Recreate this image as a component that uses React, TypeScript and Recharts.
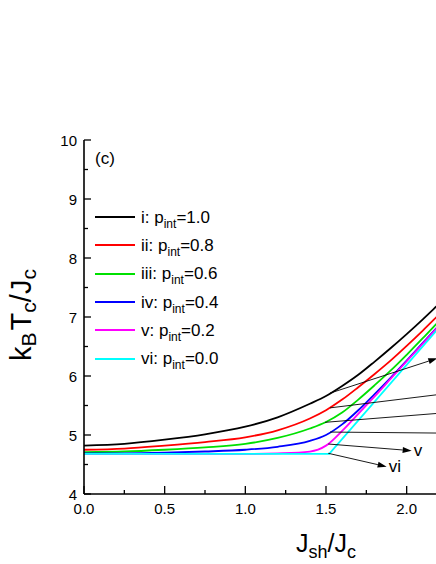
import { Legend, Line, LineChart, ReferenceLine, XAxis, YAxis } from "recharts";

const FONT = '"Liberation Sans", Arial, sans-serif';

// J_sh / J_c sample points for curves i..v
const jsh = [0, 0.25, 0.5, 0.75, 1.0, 1.2, 1.4, 1.5, 1.6, 1.7, 1.8, 1.9, 2.0, 2.1, 2.2, 2.3];
const tcI = [4.82, 4.85, 4.92, 5.01, 5.14, 5.3, 5.53, 5.66, 5.83, 6.02, 6.24, 6.47, 6.71, 6.96, 7.22, 7.48];
const tcII = [4.75, 4.77, 4.82, 4.88, 4.96, 5.08, 5.28, 5.42, 5.6, 5.81, 6.03, 6.26, 6.51, 6.77, 7.04, 7.31];
const tcIII = [4.71, 4.72, 4.75, 4.79, 4.85, 4.95, 5.11, 5.22, 5.38, 5.6, 5.84, 6.09, 6.36, 6.64, 6.93, 7.22];
const tcIV = [4.69, 4.69, 4.7, 4.72, 4.75, 4.8, 4.9, 5.0, 5.18, 5.42, 5.69, 5.97, 6.26, 6.56, 6.86, 7.16];
const tcV = [4.68, 4.68, 4.68, 4.68, 4.68, 4.69, 4.72, 4.82, 5.07, 5.36, 5.65, 5.95, 6.25, 6.55, 6.85, 7.15];
// curve vi is piecewise linear
const jshVi = [0, 1.52, 2.3];
const tcVi = [4.68, 4.68, 7.13];

const seriesNames = ["i", "ii", "iii", "iv", "v", "vi"];
const pintValues = ["1.0", "0.8", "0.6", "0.4", "0.2", "0.0"];
const seriesColors = ["#000000", "#ff0000", "#00e000", "#0000ff", "#ff00ff", "#00ffff"];

// the figure is cropped at the right, so only ticks up to 2.25 are visible
const xTicks = [0, 0.25, 0.5, 0.75, 1, 1.25, 1.5, 1.75, 2, 2.25];
const yTicks = [4, 4.5, 5, 5.5, 6, 6.5, 7, 7.5, 8, 8.5, 9, 9.5, 10];

// annotation arrows: start on curve -> tip. Labels i..iv sit outside the cropped figure.
const arrowFrom = [
  [1.525, 5.71],
  [1.525, 5.46],
  [1.494, 5.215],
  [1.525, 5.05],
  [1.514, 4.847],
  [1.514, 4.69],
];
const arrowTo = [
  [2.19, 6.3],
  [2.3, 5.72],
  [2.3, 5.39],
  [2.3, 5.03],
  [2.031, 4.734],
  [1.876, 4.463],
];
const arrowLabels = ["", "", "", "", "v", "vi"];

const curves = [tcI, tcII, tcIII, tcIV, tcV].map((vals) =>
  jsh.map((x, i) => ({ x, y: vals[i] }))
);
const curveVi = jshVi.map((x, i) => ({ x, y: tcVi[i] }));
const allCurves = [...curves, curveVi];

const isMajor = (v: number, step: number) =>
  Math.abs(v / step - Math.round(v / step)) < 1e-6;

function XTick(props: any) {
  const { x, y, payload } = props;
  const major = isMajor(payload.value, 0.5);
  return (
    <g>
      <line x1={x} x2={x} y1={y} y2={y - (major ? 8 : 4)} stroke="#000" strokeWidth={1.3} />
      {major && (
        <text x={x} y={y + 20} textAnchor="middle" fontSize={15} fontFamily={FONT} fill="#000">
          {payload.value.toFixed(1)}
        </text>
      )}
    </g>
  );
}

function YTick(props: any) {
  const { x, y, payload } = props;
  const major = isMajor(payload.value, 1);
  return (
    <g>
      <line x1={x} x2={x + (major ? 7 : 4)} y1={y} y2={y} stroke="#000" strokeWidth={1.3} />
      {major && (
        <text x={x - 7} y={y + 5.5} textAnchor="end" fontSize={15} fontFamily={FONT} fill="#000">
          {payload.value}
        </text>
      )}
    </g>
  );
}

function YTitle(props: any) {
  const vb = props.viewBox;
  const cx = 21;
  const cy = vb.y + vb.height / 2 - 2;
  return (
    <text
      x={cx}
      y={cy}
      transform={`rotate(-90, ${cx}, ${cy})`}
      textAnchor="middle"
      dominantBaseline="central"
      fontSize={29}
      fontFamily={FONT}
      fill="#000"
    >
      k<tspan fontSize={21} dy={7}>B</tspan>
      <tspan dy={-7} dx={2}>T</tspan>
      <tspan fontSize={21} dy={7}>c</tspan>
      <tspan dy={-7}>/J</tspan>
      <tspan fontSize={21} dy={7}>c</tspan>
    </text>
  );
}

function XTitle(props: any) {
  const vb = props.viewBox;
  const cx = vb.x + vb.width / 2;
  return (
    <text x={cx} y={vb.y + 58} textAnchor="middle" fontSize={25} fontFamily={FONT} fill="#000">
      J<tspan fontSize={18} dy={6}>sh</tspan>
      <tspan dy={-6}>/J</tspan>
      <tspan fontSize={18} dy={6}>c</tspan>
    </text>
  );
}

function arrowShape(label: string) {
  return (p: any) => {
    const { x1, y1, x2, y2 } = p;
    const ang = Math.atan2(y2 - y1, x2 - x1);
    const len = 9;
    const half = 3;
    const bx = x2 - len * Math.cos(ang);
    const by = y2 - len * Math.sin(ang);
    const nx = -Math.sin(ang) * half;
    const ny = Math.cos(ang) * half;
    return (
      <g>
        <line x1={x1} y1={y1} x2={bx} y2={by} stroke="#000" strokeWidth={0.9} />
        <polygon points={`${x2},${y2} ${bx + nx},${by + ny} ${bx - nx},${by - ny}`} fill="#000" />
        {label && (
          <text x={x2 + 2} y={y2} dominantBaseline="central" fontSize={17} fontFamily={FONT} fill="#000">
            {label}
          </text>
        )}
      </g>
    );
  };
}

function LegendBox() {
  return (
    <div style={{ fontFamily: FONT, fontSize: 17, color: "#000" }}>
      {seriesNames.map((name, i) => (
        <div key={name} style={{ display: "flex", alignItems: "center", height: 28.3 }}>
          <svg width={40} height={4} style={{ display: "block" }}>
            <line x1={0} x2={40} y1={2} y2={2} stroke={seriesColors[i]} strokeWidth={1.8} />
          </svg>
          <span style={{ marginLeft: 6, whiteSpace: "nowrap", lineHeight: 1 }}>
            {name}: p
            <span style={{ fontSize: 12, position: "relative", top: 5 }}>int</span>={pintValues[i]}
          </span>
        </div>
      ))}
    </div>
  );
}

export default function App() {
  return (
    <div
      style={{
        position: "absolute",
        left: 0,
        top: 0,
        width: 436,
        height: 564,
        overflow: "hidden",
        background: "#fff",
      }}
    >
      <LineChart width={600} height={564} margin={{ top: 140, right: 32, bottom: 0, left: 0 }}>
        <XAxis
          dataKey="x"
          type="number"
          domain={[0, 3]}
          ticks={xTicks}
          interval={0}
          tickSize={0}
          tickMargin={0}
          tickLine={false}
          tick={<XTick />}
          height={70}
          axisLine={{ stroke: "#000", strokeWidth: 1.6 }}
          label={{ content: XTitle }}
        />
        <XAxis
          xAxisId="top"
          orientation="top"
          type="number"
          domain={[0, 3]}
          height={0}
          tick={false}
          tickLine={false}
          axisLine={{ stroke: "#000", strokeWidth: 1.6 }}
        />
        <YAxis
          type="number"
          domain={[4, 10]}
          ticks={yTicks}
          interval={0}
          width={84}
          tickSize={0}
          tickMargin={0}
          tickLine={false}
          tick={<YTick />}
          axisLine={{ stroke: "#000", strokeWidth: 1.6 }}
          label={{ content: YTitle }}
        />
        <Legend
          layout="horizontal"
          verticalAlign="middle"
          align="center"
          content={LegendBox}
          wrapperStyle={{ left: 95, top: 203, width: "auto" }}
        />
        {allCurves.map((data, i) => (
          <Line
            key={seriesNames[i]}
            data={data}
            dataKey="y"
            name={seriesNames[i]}
            type={i === 5 ? "linear" : "monotone"}
            stroke={seriesColors[i]}
            strokeWidth={1.8}
            dot={false}
            isAnimationActive={false}
          />
        ))}
        {seriesNames.map((name, i) => (
          <ReferenceLine
            key={"arrow-" + name}
            segment={[
              { x: arrowFrom[i][0], y: arrowFrom[i][1] },
              { x: arrowTo[i][0], y: arrowTo[i][1] },
            ]}
            shape={arrowShape(arrowLabels[i])}
          />
        ))}
        <text x={95} y={164} fontSize={17} fontFamily={FONT} fill="#000">
          (c)
        </text>
      </LineChart>
    </div>
  );
}
